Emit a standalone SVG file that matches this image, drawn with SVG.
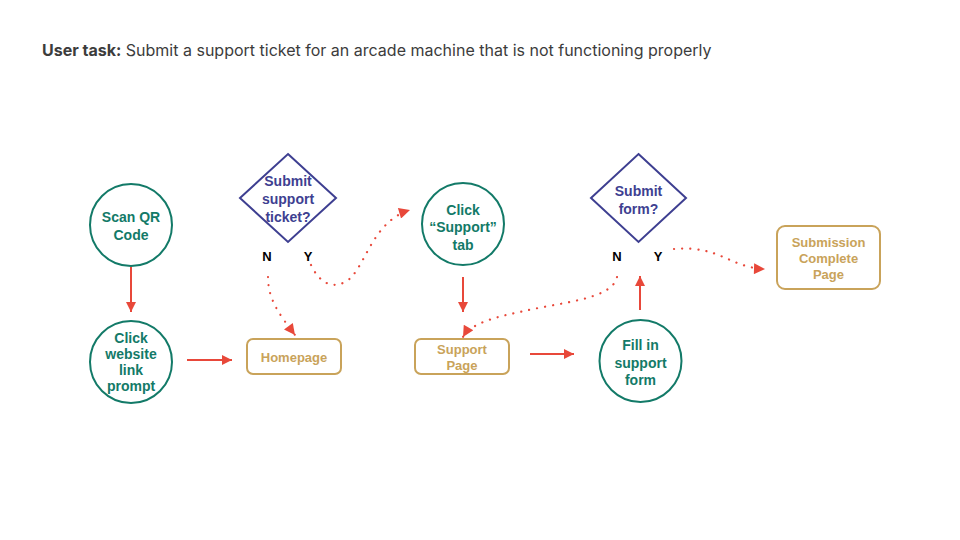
<svg xmlns="http://www.w3.org/2000/svg" width="960" height="540" viewBox="0 0 960 540">
<style>
.circ{fill:#fff;stroke:#137a68;stroke-width:2}
.ct{fill:#137a68;font-family:"Liberation Sans",Arial,sans-serif;font-weight:bold;font-size:14px;text-anchor:middle}
.dia{fill:#fff;stroke:#3e3f91;stroke-width:2}
.dt{fill:#3e3f91;font-family:"Liberation Sans",Arial,sans-serif;font-weight:bold;font-size:14px;text-anchor:middle}
.box{fill:#fff;stroke:#c9a35a;stroke-width:2}
.bt{fill:#c9a35a;font-family:"Liberation Sans",Arial,sans-serif;font-weight:bold;font-size:13px;text-anchor:middle}
.yn{fill:#000;font-family:"Liberation Sans",Arial,sans-serif;font-weight:bold;font-size:13px;text-anchor:middle}
.solid{fill:none;stroke:#e8483a;stroke-width:2}
.dot{fill:none;stroke:#e8483a;stroke-width:2.2;stroke-dasharray:0.1 8;stroke-linecap:round}
</style>
<defs>
<marker id="ah" viewBox="0 0 10 10" refX="10" refY="5" markerWidth="12" markerHeight="10" markerUnits="userSpaceOnUse" orient="auto">
<path d="M0,0 L10,5 L0,10 z" fill="#e8483a"/>
</marker>
<marker id="ahd" viewBox="0 0 10 10" refX="10" refY="5" markerWidth="15" markerHeight="11" markerUnits="userSpaceOnUse" orient="auto">
<path d="M0,0 L10,5 L0,10 z" fill="#e8483a"/>
</marker>
</defs>
<rect width="960" height="540" fill="#fff"/>
<text x="42" y="56" font-family="Inter,'Liberation Sans',sans-serif" font-size="16" fill="#3c3c3c"><tspan font-weight="bold">User task:</tspan> Submit a support ticket for an arcade machine that is not functioning properly</text>

<g id="connectors">
<line class="solid" x1="131" y1="267" x2="131" y2="312" marker-end="url(#ah)"/>
<line class="solid" x1="187" y1="360" x2="232" y2="360" marker-end="url(#ah)"/>
<path class="dot" d="M268,277 C268,300 280,315 295,335" marker-end="url(#ahd)"/>
<path class="dot" d="M311,265 C318,280 330,290 345,282 C365,272 370,222 410,210" marker-end="url(#ahd)"/>
<line class="solid" x1="463" y1="277" x2="463" y2="312" marker-end="url(#ah)"/>
<path class="dot" d="M617,277 C612,300 560,302 520,312 C490,318 470,325 463,337" marker-end="url(#ahd)"/>
<line class="solid" x1="530" y1="354" x2="574" y2="354" marker-end="url(#ah)"/>
<line class="solid" x1="640" y1="310" x2="640" y2="276" marker-end="url(#ah)"/>
<path class="dot" d="M674,249 C720,245 730,268 765,269" marker-end="url(#ahd)"/>
</g>

<g id="scan">
<circle class="circ" cx="131" cy="225" r="41"/>
<text class="ct" x="131" y="222">Scan QR</text>
<text class="ct" x="131" y="240">Code</text>
</g>
<g id="click-link">
<circle class="circ" cx="131" cy="362" r="41"/>
<text class="ct" x="131" y="343">Click</text>
<text class="ct" x="131" y="359">website</text>
<text class="ct" x="131" y="375">link</text>
<text class="ct" x="131" y="391">prompt</text>
</g>
<g id="homepage">
<rect class="box" x="247" y="339" width="94" height="35" rx="6"/>
<text class="bt" x="294" y="361.5">Homepage</text>
</g>
<g id="decision-ticket">
<polygon class="dia" points="288,154 336,198 288,242 240,198"/>
<text class="dt" x="288" y="186">Submit</text>
<text class="dt" x="288" y="204">support</text>
<text class="dt" x="288" y="222">ticket?</text>
<text class="yn" x="267" y="261">N</text>
<text class="yn" x="308" y="261">Y</text>
</g>
<g id="click-support">
<circle class="circ" cx="463" cy="224" r="41"/>
<text class="ct" x="463" y="215">Click</text>
<text class="ct" x="463" y="232">“Support”</text>
<text class="ct" x="463" y="250">tab</text>
</g>
<g id="support-page">
<rect class="box" x="415" y="339" width="94" height="35" rx="6"/>
<text class="bt" x="462" y="353.5">Support</text>
<text class="bt" x="462" y="369.5">Page</text>
</g>
<g id="fill-form">
<circle class="circ" cx="640.5" cy="361" r="41"/>
<text class="ct" x="640.5" y="350">Fill in</text>
<text class="ct" x="640.5" y="368">support</text>
<text class="ct" x="640.5" y="385">form</text>
</g>
<g id="decision-form">
<polygon class="dia" points="638.5,154 686,198 638.5,242 591,198"/>
<text class="dt" x="638.5" y="196">Submit</text>
<text class="dt" x="638.5" y="214">form?</text>
<text class="yn" x="617" y="261">N</text>
<text class="yn" x="658" y="261">Y</text>
</g>
<g id="submission-complete">
<rect class="box" x="777" y="226" width="103" height="63" rx="8"/>
<text class="bt" x="828.5" y="246.5">Submission</text>
<text class="bt" x="828.5" y="262.5">Complete</text>
<text class="bt" x="828.5" y="278.5">Page</text>
</g>
</svg>
